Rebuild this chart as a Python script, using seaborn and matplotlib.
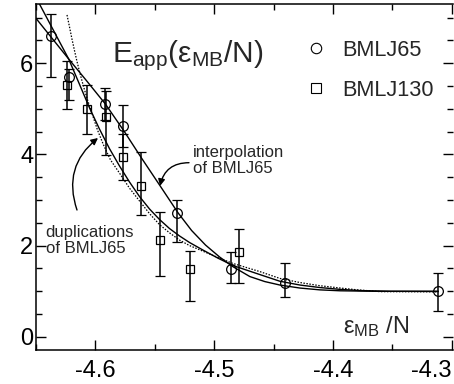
import matplotlib
matplotlib.use("Agg")
import matplotlib.pyplot as plt
from matplotlib.lines import Line2D
from matplotlib.ticker import MultipleLocator
import seaborn as sns
import pandas as pd

# ---------------- data ----------------
# BMLJ65 (circles)
c_x = [-4.637, -4.6225, -4.592, -4.577, -4.531, -4.4855, -4.4405, -4.3117]
c_y = [6.605, 5.706, 5.106, 4.624, 2.721, 1.486, 1.172, 1.003]
c_err_lo = [0.913, 0.51, 0.35, 0.46, 0.64, 0.30, 0.31, 0.44]
c_err_hi = [0.476, 0.17, 0.35, 0.46, 0.28, 0.37, 0.44, 0.39]

# BMLJ130 (squares)
s_x = [-4.6236, -4.607, -4.5907, -4.577, -4.5614, -4.5454, -4.5204, -4.4793]
s_y = [5.523, 4.997, 4.821, 3.943, 3.307, 2.122, 1.479, 1.865]
s_err_lo = [0.53, 0.54, 0.83, 0.50, 0.64, 0.79, 0.685, 0.69]
s_err_hi = [0.53, 0.53, 0.57, 0.50, 0.75, 0.62, 0.40, 0.50]

# interpolation of BMLJ65 (solid)
interp_x = [-4.6520, -4.6225, -4.6068, -4.5916, -4.5761, -4.5612, -4.5460, -4.5305,
            -4.5190, -4.5073, -4.4954, -4.4841, -4.4700, -4.4574, -4.4447, -4.4278,
            -4.4110, -4.3941, -4.3646, -4.3114]
interp_y = [7.05, 6.094, 5.596, 5.106, 4.520, 3.921, 3.329, 2.721,
            2.331, 2.012, 1.749, 1.536, 1.321, 1.211, 1.135, 1.069,
            1.029, 1.009, 0.998, 0.996]

# duplications of BMLJ65 (solid)
dup_x = [-4.6489, -4.6225, -4.6135, -4.6051, -4.5966, -4.5882, -4.5797, -4.5713,
         -4.5629, -4.5544, -4.5460, -4.5376, -4.5291, -4.5207, -4.5095, -4.4970,
         -4.4841, -4.4616, -4.4447, -4.4278, -4.4110, -4.3941, -4.3772, -4.3519,
         -4.3114]
dup_y = [7.389, 6.094, 5.545, 5.030, 4.558, 4.130, 3.746, 3.395,
         3.077, 2.802, 2.572, 2.374, 2.210, 2.067, 1.903, 1.727,
         1.562, 1.365, 1.218, 1.135, 1.080, 1.040, 1.014, 0.998,
         0.996]

# third (dotted) curve
dot_x = [-4.6239, -4.6219, -4.6198, -4.6177, -4.6156, -4.6131, -4.6101, -4.6068,
         -4.6030, -4.5983, -4.5932, -4.5873, -4.5797, -4.5713, -4.5629, -4.5544,
         -4.5460, -4.5376, -4.5291, -4.5207, -4.5097, -4.4970, -4.4844, -4.4616,
         -4.4447, -4.4278, -4.4110, -4.3941, -4.3797, -4.3603, -4.3114]
dot_y = [7.06, 6.81, 6.54, 6.29, 6.05, 5.79, 5.50, 5.21,
         4.91, 4.54, 4.21, 3.88, 3.59, 3.26, 2.98, 2.70,
         2.46, 2.28, 2.12, 2.00, 1.88, 1.74, 1.61, 1.43,
         1.28, 1.19, 1.12, 1.07, 1.03, 0.99, 0.985]

x_ticks = [-4.6, -4.5, -4.4, -4.3]
x_ticklabels = ["-4.6", "-4.5", "-4.4", "-4.3"]
y_ticks = [0, 2, 4, 6]
y_ticklabels = ["0", "2", "4", "6"]
legend_labels = ["BMLJ65", "BMLJ130"]

# ---------------- style ----------------
sns.set_theme(style="ticks")
plt.rcParams["font.family"] = ["Liberation Sans", "DejaVu Sans"]
plt.rcParams["axes.unicode_minus"] = False
plt.rcParams["mathtext.fontset"] = "custom"
plt.rcParams["mathtext.rm"] = "Liberation Sans"
plt.rcParams["mathtext.it"] = "Liberation Sans:italic"
plt.rcParams["mathtext.bf"] = "Liberation Sans:bold"

W, H = 454, 384
fig = plt.figure(figsize=(W / 100, H / 100), dpi=100)
ax = fig.add_axes([36 / W, 34 / H, 417 / W, 346 / H])

# curves
sns.lineplot(data=pd.DataFrame({"x": interp_x, "y": interp_y}), x="x", y="y",
             ax=ax, color="black", lw=1.0, sort=False, estimator=None)
sns.lineplot(data=pd.DataFrame({"x": dup_x, "y": dup_y}), x="x", y="y",
             ax=ax, color="black", lw=1.0, sort=False, estimator=None)
sns.lineplot(data=pd.DataFrame({"x": dot_x, "y": dot_y}), x="x", y="y",
             ax=ax, color="black", lw=0.9, sort=False, estimator=None,
             linestyle=(0, (1.2, 1.2)))

# data with error bars
ax.errorbar(c_x, c_y, yerr=[c_err_lo, c_err_hi], fmt="o", ms=7, mfc="none",
            mec="black", mew=0.9, ecolor="black", elinewidth=1.1, capsize=3.5,
            capthick=1.1, color="black")
ax.errorbar(s_x, s_y, yerr=[s_err_lo, s_err_hi], fmt="s", ms=6, mfc="none",
            mec="black", mew=0.9, ecolor="black", elinewidth=1.1, capsize=3.5,
            capthick=1.1, color="black")

ax.set_xlim(-4.65, -4.299)
ax.set_ylim(-0.29, 7.30)
ax.set_xticks(x_ticks)
ax.set_xticklabels(x_ticklabels)
ax.set_yticks(y_ticks)
ax.set_yticklabels(y_ticklabels)
ax.xaxis.set_minor_locator(MultipleLocator(0.05))
ax.yaxis.set_minor_locator(MultipleLocator(0.5))
ax.set_xlabel("")
ax.set_ylabel("")

for side in ["left", "bottom", "top"]:
    ax.spines[side].set_linewidth(1.1)
    ax.spines[side].set_color("black")
ax.spines["right"].set_visible(False)

ax.tick_params(which="both", direction="in", top=True, right=True,
               width=1.0, color="black")
ax.tick_params(which="major", length=7, labelsize=17, labelcolor="black")
ax.tick_params(which="minor", length=4)
ax.tick_params(axis="x", which="major", pad=7)
ax.tick_params(axis="y", which="major", pad=2)
# last x label sits flush with the right edge, as in the reference
ax.get_xticklabels()[-1].set_horizontalalignment("right")

# legend
handles = [
    Line2D([], [], marker="o", ls="none", mfc="none", mec="black", ms=7.5, mew=0.8),
    Line2D([], [], marker="s", ls="none", mfc="none", mec="black", ms=7, mew=0.8),
]
ax.legend(handles, legend_labels, loc="upper left",
          bbox_to_anchor=((305 - 36) / 417, (350 - 40) / 346),
          frameon=False, fontsize=15.7, handlelength=1.0, handletextpad=0.7,
          labelspacing=0.85, borderpad=0, borderaxespad=0)

# title inside the plot
ax.text((111.7 - 36) / 417, (350 - 62) / 346,
        r"$\mathregular{E_{app}(\epsilon_{MB}/N)}$",
        transform=ax.transAxes, fontsize=21.5, ha="left", va="baseline")

# x-axis label inside the plot
ax.text((343 - 36) / 417, (350 - 333.3) / 346,
        r"$\mathregular{\epsilon_{MB}}$ /N",
        transform=ax.transAxes, fontsize=17, ha="left", va="baseline")

# annotations
ax.text((192.7 - 36) / 417, (350 - 144.5) / 346, "interpolation\nof BMLJ65",
        transform=ax.transAxes, fontsize=12, ha="left", va="top", linespacing=1.1)
ax.text((45.7 - 36) / 417, (350 - 224.5) / 346, "duplications\nof BMLJ65",
        transform=ax.transAxes, fontsize=12, ha="left", va="top", linespacing=1.1)

ax.annotate("", xy=((160 - 36) / 417, (350 - 186) / 346),
            xytext=((189 - 36) / 417, (350 - 162.7) / 346),
            xycoords="axes fraction", textcoords="axes fraction",
            arrowprops=dict(arrowstyle="-|>", color="black", lw=1.0,
                            mutation_scale=10, shrinkA=0, shrinkB=0,
                            connectionstyle="arc3,rad=0.4"))
ax.annotate("", xy=((98 - 36) / 417, (350 - 138) / 346),
            xytext=((77 - 36) / 417, (350 - 210) / 346),
            xycoords="axes fraction", textcoords="axes fraction",
            arrowprops=dict(arrowstyle="-|>", color="black", lw=1.0,
                            mutation_scale=10, shrinkA=0, shrinkB=0,
                            connectionstyle="arc3,rad=-0.35"))

fig.savefig("out.png", dpi=100)
